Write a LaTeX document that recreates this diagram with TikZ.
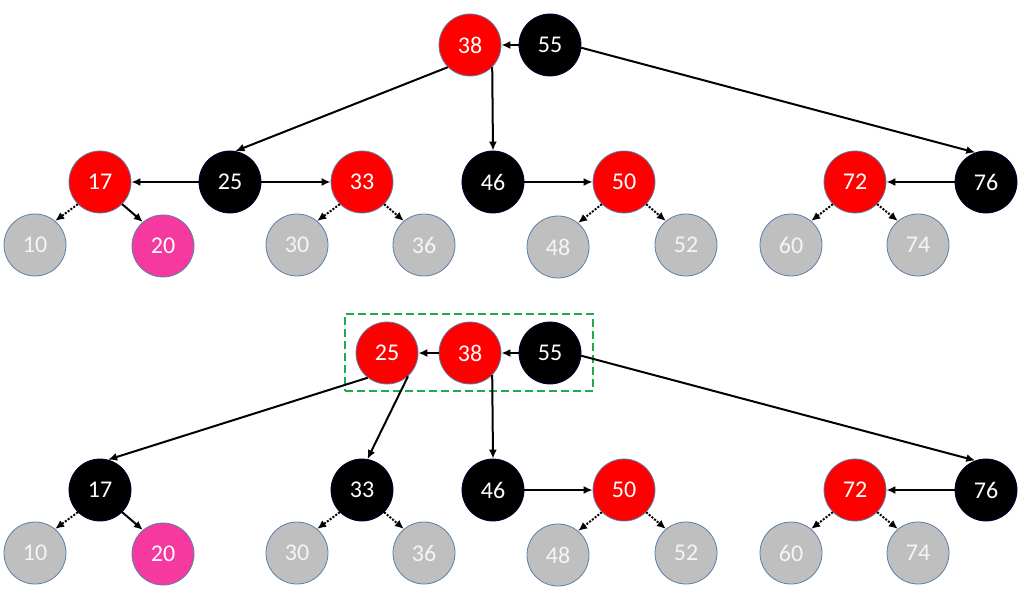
\documentclass[tikz,border=0pt]{standalone}
\usepackage{fontspec}
\setmainfont{Carlito}
\usetikzlibrary{arrows.meta}
\definecolor{rbred}{HTML}{FF0000}
\definecolor{rbpink}{HTML}{F5399E}
\definecolor{rbgray}{HTML}{BFBFBF}
\definecolor{rbedge}{HTML}{5A7FA8}
\definecolor{rbgreen}{HTML}{22A94A}
\begin{document}
\begin{tikzpicture}[x=1pt,y=-1pt,
  nd/.style={circle,minimum size=62pt,inner sep=0pt,font=\fontsize{24}{24}\selectfont,text=white,line width=0.8pt},
  rd/.style={nd,fill=rbred,draw=rbedge},
  bk/.style={nd,fill=black,draw=black!80!blue},
  pk/.style={nd,fill=rbpink,draw=rbedge},
  gy/.style={nd,fill=rbgray,draw=rbedge,text=white!96!black},
  ar/.style={line width=2pt,-{Latex[length=9pt,width=8pt]}},
  dt/.style={ar,dash pattern=on 2pt off 1.5pt},
  box/.style={draw=rbgreen,line width=2pt,dash pattern=on 8pt off 4pt}]
\useasboundingbox (0,0) rectangle (1022,601);
% ---------- top tree ----------
\node[rd] (t38) at (470,45) {38};
\node[bk] (t55) at (550,45) {55};
\node[bk] (t25) at (230,182) {25};
\node[rd] (t17) at (100,182) {17};
\node[rd] (t33) at (362,182) {33};
\node[bk] (t46) at (493,182) {46};
\node[rd] (t50) at (624,182) {50};
\node[rd] (t72) at (855,182) {72};
\node[bk] (t76) at (986,182) {76};
\node[gy] (t10) at (35,245) {10};
\node[pk] (t20) at (163,246) {20};
\node[gy] (t30) at (297,245) {30};
\node[gy] (t36) at (424,245) {36};
\node[gy] (t48) at (558,247) {48};
\node[gy] (t52) at (686,245) {52};
\node[gy] (t60) at (791,245) {60};
\node[gy] (t74) at (918,245) {74};
\draw[ar] (t55) -- (t38);
\draw[ar] (t38.south west) -- (t25.80);
\draw[ar] (t38.-45) -- (t46.north);
\draw[ar] (t55.-5) -- (t76.110);
\draw[ar] (t25) -- (t17);
\draw[ar] (t25) -- (t33);
\draw[ar] (t46) -- (t50);
\draw[ar] (t76) -- (t72);
\draw[dt] (t17.-135) -- (t10.50);
\draw[ar] (t17.-45) -- (t20.130);
\draw[dt] (t33.-135) -- (t30.50);
\draw[dt] (t33.-45) -- (t36.130);
\draw[dt] (t50.-135) -- (t48.50);
\draw[dt] (t50.-45) -- (t52.130);
\draw[dt] (t72.-135) -- (t60.50);
\draw[dt] (t72.-45) -- (t74.130);
% ---------- bottom tree ----------
\node[box,minimum width=248pt,minimum height=77pt,inner sep=0pt] (grp) at (469,352.5) {};
\node[rd] (b25) at (387,353) {25};
\node[rd] (b38) at (470,353) {38};
\node[bk] (b55) at (550,353) {55};
\node[bk] (b17) at (100,490) {17};
\node[bk] (b33) at (362,490) {33};
\node[bk] (b46) at (493,490) {46};
\node[rd] (b50) at (624,490) {50};
\node[rd] (b72) at (855,490) {72};
\node[bk] (b76) at (986,490) {76};
\node[gy] (b10) at (35,553) {10};
\node[pk] (b20) at (163,554) {20};
\node[gy] (b30) at (297,553) {30};
\node[gy] (b36) at (424,553) {36};
\node[gy] (b48) at (558,555) {48};
\node[gy] (b52) at (686,553) {52};
\node[gy] (b60) at (791,553) {60};
\node[gy] (b74) at (918,553) {74};
\draw[ar] (b38) -- (b25);
\draw[ar] (b55) -- (b38);
\draw[ar] (b25.-128) -- (b17.75);
\draw[ar] (b25.-48) -- (b33.80);
\draw[ar] (b38.-45) -- (b46.north);
\draw[ar] (b55.-5) -- (b76.110);
\draw[ar] (b46) -- (b50);
\draw[ar] (b76) -- (b72);
\draw[dt] (b17.-135) -- (b10.50);
\draw[ar] (b17.-45) -- (b20.130);
\draw[dt] (b33.-135) -- (b30.50);
\draw[dt] (b33.-45) -- (b36.130);
\draw[dt] (b50.-135) -- (b48.50);
\draw[dt] (b50.-45) -- (b52.130);
\draw[dt] (b72.-135) -- (b60.50);
\draw[dt] (b72.-45) -- (b74.130);
\end{tikzpicture}
\end{document}
